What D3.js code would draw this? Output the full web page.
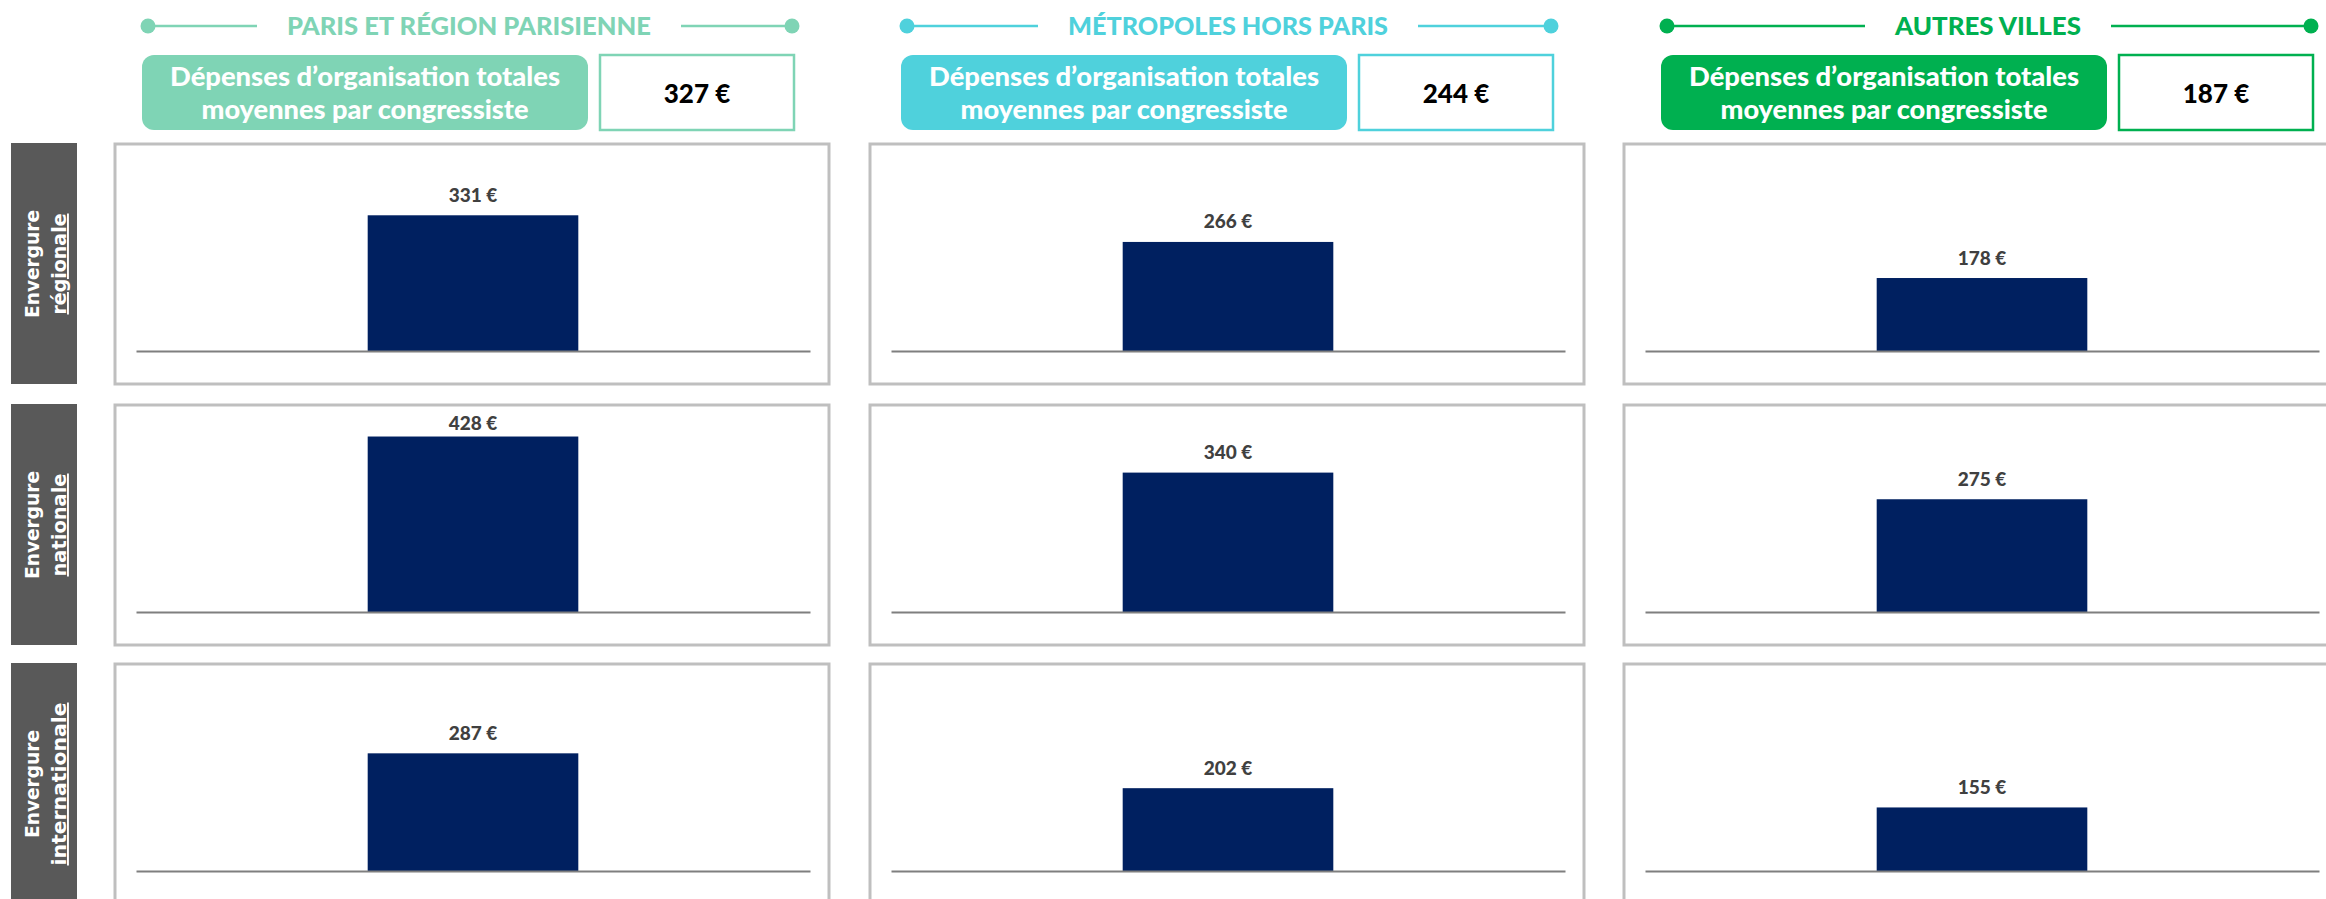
<!DOCTYPE html>
<html>
<head>
<meta charset="utf-8">
<script src="https://cdn.jsdelivr.net/npm/d3@7.9.0/dist/d3.min.js"></script>
<style>
  html, body { margin: 0; padding: 0; background: #fff; overflow: hidden; }
  svg { display: block; }
</style>
</head>
<body>
<svg id="chart" width="2326" height="899"></svg>
<script>
// data
const regions = ["PARIS ET RÉGION PARISIENNE", "MÉTROPOLES HORS PARIS", "AUTRES VILLES"];
const totals = [327, 244, 187];
const boxLines = ["Dépenses d’organisation totales", "moyennes par congressiste"];
const scopes = ["régionale", "nationale", "internationale"];
const regionale = [331, 266, 178];
const nationale = [428, 340, 275];
const internationale = [287, 202, 155];
const rowValues = [regionale, nationale, internationale];

// styles / layout
const regionColors = ["#7fd4b5", "#4fd1dc", "#00b050"];
const barColor = "#002060";
const panelX = [115, 870, 1624];
const headerX = [142, 901, 1661];
const titleWidths = [364, 320, 186];
const scopeWidths = [101, 103, 163];
const panelY = [144, 405, 664];
const panelW = 714, panelH = 240;
const baseOffset = 207;
const mainFont = "Lato, 'Open Sans', sans-serif";
const rowFont = "'DejaVu Sans', Verdana, sans-serif";

let svg = d3.select("#chart");

// column headers
regions.forEach((name, c) => {
    let g = svg.append("g").attr("transform", `translate(${headerX[c]},0)`);
    let col = regionColors[c];
    let cx = 327;
    let half = titleWidths[c] / 2;

    // title with lines and dots
    g.append("line")
        .attr("x1", 6).attr("x2", cx - half - 30)
        .attr("y1", 26).attr("y2", 26)
        .attr("stroke", col).attr("stroke-width", 2.5);
    g.append("line")
        .attr("x1", cx + half + 30).attr("x2", 650)
        .attr("y1", 26).attr("y2", 26)
        .attr("stroke", col).attr("stroke-width", 2.5);
    g.append("circle").attr("cx", 6).attr("cy", 26).attr("r", 7.5).attr("fill", col);
    g.append("circle").attr("cx", 650).attr("cy", 26).attr("r", 7.5).attr("fill", col);
    g.append("text")
        .attr("x", cx).attr("y", 35)
        .attr("text-anchor", "middle")
        .attr("font-family", mainFont)
        .attr("font-weight", "900")
        .attr("font-size", "25px")
        .attr("fill", col)
        .attr("textLength", titleWidths[c])
        .attr("lengthAdjust", "spacingAndGlyphs")
        .text(name);

    // label box
    g.append("rect")
        .attr("x", 0).attr("y", 55)
        .attr("width", 446).attr("height", 75)
        .attr("rx", 12).attr("ry", 12)
        .attr("fill", col);
    let lens = [390, 327];
    boxLines.forEach((t, i) => {
        g.append("text")
            .attr("x", 223).attr("y", 86 + i * 33)
            .attr("text-anchor", "middle")
            .attr("font-family", mainFont)
            .attr("font-weight", "900")
            .attr("font-size", "27px")
            .attr("fill", "#fff")
            .attr("textLength", lens[i])
            .attr("lengthAdjust", "spacingAndGlyphs")
            .text(t);
    });

    // value box
    g.append("rect")
        .attr("x", 458).attr("y", 55)
        .attr("width", 194).attr("height", 75)
        .attr("fill", "#fff")
        .attr("stroke", col).attr("stroke-width", 2.5);
    g.append("text")
        .attr("x", 555).attr("y", 103)
        .attr("text-anchor", "middle")
        .attr("font-family", mainFont)
        .attr("font-weight", "900")
        .attr("font-size", "26px")
        .attr("fill", "#000")
        .text(`${totals[c]} €`);
});

// row labels
scopes.forEach((s, r) => {
    let cy = panelY[r] + panelH / 2;
    svg.append("rect")
        .attr("x", 11).attr("y", panelY[r] - 1)
        .attr("width", 66).attr("height", panelH + 1)
        .attr("fill", "#595959");
    let t = svg.append("g").attr("transform", `translate(44,${cy}) rotate(-90)`);
    t.append("text")
        .attr("x", 0).attr("y", -5.5)
        .attr("text-anchor", "middle")
        .attr("font-family", rowFont)
        .attr("font-weight", "bold")
        .attr("font-size", "19px")
        .attr("fill", "#fff")
        .attr("textLength", 108)
        .attr("lengthAdjust", "spacingAndGlyphs")
        .text("Envergure");
    t.append("text")
        .attr("x", 0).attr("y", 22)
        .attr("text-anchor", "middle")
        .attr("font-family", rowFont)
        .attr("font-weight", "bold")
        .attr("font-size", "19px")
        .attr("fill", "#fff")
        .attr("textLength", scopeWidths[r])
        .attr("lengthAdjust", "spacingAndGlyphs")
        .style("text-decoration", "underline")
        .text(s);
});

// panels
let yScale = d3.scaleLinear().domain([0, 500]).range([0, 205]);

rowValues.forEach((vals, r) => {
    vals.forEach((v, c) => {
        let g = svg.append("g").attr("transform", `translate(${panelX[c]},${panelY[r]})`);
        g.append("rect")
            .attr("x", 0).attr("y", 0)
            .attr("width", panelW).attr("height", panelH)
            .attr("fill", "#fff")
            .attr("stroke", "#bfbfbf").attr("stroke-width", 3);

        let xScale = d3.scaleBand().domain([scopes[r]]).range([21, 695]).paddingInner(0).paddingOuter(1.1);
        let y = d3.scaleLinear().domain(yScale.domain()).range([baseOffset, baseOffset - yScale(500)]);

        g.append("rect")
            .attr("x", xScale(scopes[r]))
            .attr("y", y(v))
            .attr("width", xScale.bandwidth())
            .attr("height", y(0) - y(v))
            .attr("fill", barColor);

        let axis = g.append("g")
            .attr("transform", `translate(0,${baseOffset})`)
            .call(d3.axisBottom(xScale).tickSize(0).tickSizeOuter(0).tickFormat(""));
        axis.select(".domain").attr("stroke", "#7f7f7f").attr("stroke-width", 2);

        g.append("text")
            .attr("x", xScale(scopes[r]) + xScale.bandwidth() / 2)
            .attr("y", Math.max(y(v) - 13.5, 24.5))
            .attr("text-anchor", "middle")
            .attr("font-family", mainFont)
            .attr("font-weight", "900")
            .attr("font-size", "19px")
            .attr("fill", "#404040")
            .text(`${v} €`);
    });
});
</script>
</body>
</html>
